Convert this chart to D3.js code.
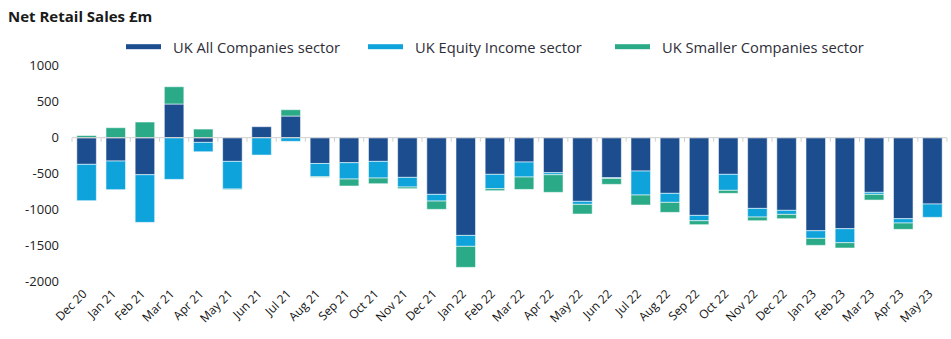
<!DOCTYPE html>
<html>
<head>
<meta charset="utf-8">
<script src="https://cdn.jsdelivr.net/npm/d3@7"></script>
<style>
  html, body { margin: 0; padding: 0; background: #fff; }
  svg { display: block; font-family: "Open Sans", "Noto Sans", sans-serif; }
</style>
</head>
<body>
<svg id="chart" width="951" height="339"></svg>
<script>
// Monthly net retail sales (£m) by sector
const months = ["Dec 20","Jan 21","Feb 21","Mar 21","Apr 21","May 21","Jun 21","Jul 21","Aug 21","Sep 21","Oct 21","Nov 21","Dec 21",
  "Jan 22","Feb 22","Mar 22","Apr 22","May 22","Jun 22","Jul 22","Aug 22","Sep 22","Oct 22","Nov 22","Dec 22",
  "Jan 23","Feb 23","Mar 23","Apr 23","May 23"];
const allCompanies = [-370,-324,-514,468,-65,-329,153,301,-358,-347,-329,-551,-787,
  -1357,-509,-338,-486,-884,-556,-463,-773,-1079,-509,-982,-1009,
  -1292,-1264,-759,-1125,-921];
const equityIncome = [-505,-398,-662,-579,-130,-384,-241,-51,-184,-227,-231,-134,-93,
  -152,-199,-208,-28,-42,-10,-333,-125,-74,-222,-120,-56,
  -106,-194,-28,-60,-186];
const smallerCompanies = [30,139,218,240,120,-8,0,88,-8,-97,-79,-23,-115,
  -292,-28,-172,-245,-134,-82,-139,-139,-55,-42,-51,-60,
  -97,-74,-79,-88,-4];
const seriesNames = ["UK All Companies sector","UK Equity Income sector","UK Smaller Companies sector"];
const seriesColors = ["#1b4d8f","#0fa3dc","#2aaa87"];
const yTicks = [1000,500,0,-500,-1000,-1500,-2000];

const rows = months.map((m, i) => ({
  month: m, s0: allCompanies[i], s1: equityIncome[i], s2: smallerCompanies[i]
}));
const keys = ["s0","s1","s2"];

const svg = d3.select("#chart");
const plotLeft = 72, plotRight = 947, plotTop = 65.7, plotBottom = 281.7;

const x = d3.scaleBand().domain(months).range([plotLeft, plotRight]).paddingInner(0.33).paddingOuter(0.165);
const y = d3.scaleLinear().domain([-2000, 1000]).range([plotBottom, plotTop]);

// Title
svg.append("text")
  .attr("x", 8).attr("y", 22)
  .attr("font-size", 15).attr("font-weight", 700).attr("fill", "#1a1a1a")
  .text("Net Retail Sales £m");

// Legend
const legendItems = [
  {x: 126, label: seriesNames[0], color: seriesColors[0]},
  {x: 368, label: seriesNames[1], color: seriesColors[1]},
  {x: 615, label: seriesNames[2], color: seriesColors[2]}
];
const lg = svg.append("g").selectAll("g").data(legendItems).join("g")
  .attr("transform", d => `translate(${d.x},46.7)`);
lg.append("rect").attr("x", 0).attr("y", -2.5).attr("width", 35).attr("height", 5).attr("fill", d => d.color);
lg.append("text").attr("x", 47).attr("y", 6.3).attr("font-size", 14.7).attr("fill", "#2e2e38")
  .text(d => d.label);

// Y axis labels
svg.append("g").selectAll("text").data(yTicks).join("text")
  .attr("x", 59).attr("y", d => y(d) + 4.5)
  .attr("text-anchor", "end").attr("font-size", 13).attr("fill", "#222")
  .text(d => d);

// Stacked bars (negatives stack downward)
const stacked = d3.stack().keys(keys).offset(d3.stackOffsetDiverging)(rows);
svg.append("g").selectAll("g").data(stacked).join("g")
  .attr("fill", (d, i) => seriesColors[i])
  .selectAll("rect").data(d => d).join("rect")
  .attr("x", d => x(d.data.month))
  .attr("width", x.bandwidth())
  .attr("y", d => y(Math.max(d[0], d[1])))
  .attr("height", d => Math.abs(y(d[0]) - y(d[1])))
  .attr("stroke", "rgba(255,255,255,0.55)")
  .attr("stroke-width", 1);

// Zero line with category tick marks
const zg = svg.append("g").attr("transform", `translate(0,${y(0)})`);
zg.append("line").attr("x1", plotLeft).attr("x2", plotRight).attr("stroke", "#cfcfcf").attr("stroke-width", 1);
const step = x.step();
zg.selectAll("line.tk").data(d3.range(months.length + 1)).join("line")
  .attr("class", "tk")
  .attr("x1", i => plotLeft + i * step).attr("x2", i => plotLeft + i * step)
  .attr("y1", 0).attr("y2", 4)
  .attr("stroke", "#cfcfcf");

// X axis labels, rotated
svg.append("g").selectAll("text").data(months).join("text")
  .attr("transform", d => `translate(${x(d) + x.bandwidth() / 2 + 1},${plotBottom + 13}) rotate(-45)`)
  .attr("text-anchor", "end").attr("font-size", 12).attr("fill", "#111")
  .text(d => d);
</script>
</body>
</html>
